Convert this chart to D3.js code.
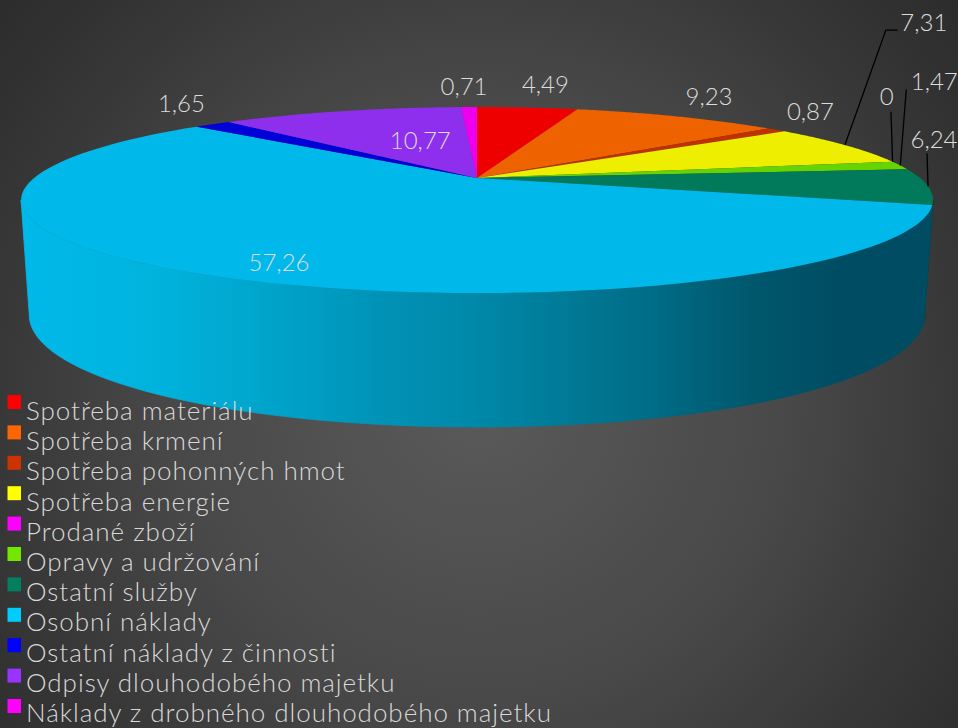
<!DOCTYPE html>
<html><head><meta charset="utf-8">
<script src="https://cdn.jsdelivr.net/npm/d3@7/dist/d3.min.js"></script>
<style>html,body{margin:0;padding:0;background:#333;overflow:hidden}svg{display:block}
text{font-family:Lato,"Open Sans",sans-serif;font-weight:300}</style></head>
<body><svg id="c" width="958" height="728"></svg>
<script>
const categories=["Spotřeba materiálu","Spotřeba krmení","Spotřeba pohonných hmot","Spotřeba energie","Prodané zboží","Opravy a udržování","Ostatní služby","Osobní náklady","Ostatní náklady z činnosti","Odpisy dlouhodobého majetku","Náklady z drobného dlouhodobého majetku"];
const values=[4.49,9.23,0.87,7.31,0,1.47,6.24,57.26,1.65,10.77,0.71];
const valueLabels=["4,49","9,23","0,87","7,31","0","1,47","6,24","57,26","1,65","10,77","0,71"];
const legendColors=["#ff0000","#ff6600","#cc3300","#ffff00","#ff00ff","#72e800","#008060","#00ccff","#0000ff","#9933ff","#ff00ff"];
const topColors=["#ee0000","#ee6200","#c03000","#eeee00","#ee00ee","#66d400","#007a5a","#00b9ea","#0000d8","#8e2fee","#ee00ee"];

// layout
const W=958,H=728,cx=477,cy=178,rxBase=443,ryBase=87.8,k=0.2366;
const depth0=109,depth1=25,bottomScale=0.982;
const project=(a,r=1)=>{const u=r*Math.sin(a),v=-r*Math.cos(a),s=1/(1-k*v);
  return [cx+rxBase*u*s,cy+ryBase*v*s];};
const projectBottom=a=>{const [x,y]=project(a),v=-Math.cos(a);
  return [cx+(x-cx)*bottomScale,y+depth0+depth1*v];};
const labelOffsets=[[18,-23],[32,-20],[34,-18],[79,-123],[-6,-65],[34,-84],[6,-47],[78,-12],[-31,-21],[79,29],[-5,-21]];
const leaders={3:[[41,-115],[53,-115]],4:[[-1.6,-50]],5:[[6,-76]],6:[[-1,-33]]};

const svg=d3.select("#c"),defs=svg.append("defs");
const bg=defs.append("radialGradient").attr("id","bg").attr("gradientUnits","userSpaceOnUse")
 .attr("cx",479).attr("cy",400).attr("r",624);
[[0,"#5a5a5a"],[0.5,"#484848"],[0.8,"#363636"],[1,"#2c2c2c"]].forEach(([o,c])=>bg.append("stop").attr("offset",o).attr("stop-color",c));
svg.append("rect").attr("width",W).attr("height",H).attr("fill","url(#bg)");

const wg=defs.append("linearGradient").attr("id","wall").attr("gradientUnits","userSpaceOnUse")
 .attr("x1",21).attr("x2",933).attr("y1",0).attr("y2",0);
[[0,"#00b9ea"],[0.15,"#00b3dc"],[0.3,"#00a0c6"],[0.4,"#0092b6"],[0.5,"#0088a8"],[0.68,"#006e88"],[0.81,"#00566b"],[0.91,"#004c62"],[1,"#004c62"]]
 .forEach(([o,c])=>wg.append("stop").attr("offset",o).attr("stop-color",c));

const arcs=d3.pie().value(d=>d).sort(null)(values);
const line=d3.line();
const tr=(a,b,n=90)=>d3.range(n+1).map(i=>a+(b-a)*i/n);

// side walls (only the visible front part)
const wallStart=Math.acos(-k),wallEnd=2*Math.PI-wallStart;
const wallFill=i=>i===7?"url(#wall)":d3.color(topColors[i]).darker(1.6).formatHex();
arcs.forEach((d,i)=>{
  const a=Math.max(d.startAngle,wallStart),b=Math.min(d.endAngle,wallEnd);
  if(b<=a)return;
  const t=tr(a,b);
  svg.append("path").attr("fill",wallFill(i)).attr("stroke",wallFill(i)).attr("stroke-width",0.8)
   .attr("d",line(t.map(x=>project(x)).concat(t.slice().reverse().map(projectBottom)))+"Z");
});
// top slices
arcs.forEach((d,i)=>{
  if(d.endAngle<=d.startAngle)return;
  svg.append("path").attr("fill",topColors[i])
   .attr("d",line([[cx,cy]].concat(tr(d.startAngle,d.endAngle).map(x=>project(x))))+"Z");
});
// leader lines
arcs.forEach((d,i)=>{
  if(!leaders[i])return;
  const p=project((d.startAngle+d.endAngle)/2);
  svg.append("path").attr("fill","none").attr("stroke","#000").attr("stroke-width",1.3)
   .attr("d",line([p].concat(leaders[i].map(o=>[p[0]+o[0],p[1]+o[1]]))));
});
// value labels
arcs.forEach((d,i)=>{
  const p=project((d.startAngle+d.endAngle)/2),o=labelOffsets[i];
  svg.append("text").attr("x",p[0]+o[0]).attr("y",p[1]+o[1]+8.5).attr("text-anchor","middle")
   .attr("font-size",24).attr("fill","#dcdcdc").text(valueLabels[i]);
});
// legend
const ly=d3.scalePoint().domain(d3.range(categories.length)).range([395,699]);
const lt=d3.scalePoint().domain(d3.range(categories.length)).range([420,722]);
categories.forEach((c,i)=>{
  svg.append("rect").attr("x",7.5).attr("y",ly(i)).attr("width",13.5).attr("height",14).attr("fill",legendColors[i]);
  svg.append("text").attr("x",26).attr("y",lt(i)).attr("font-size",26).attr("letter-spacing",0.95).attr("fill","#d8d8d8").text(c);
});
</script></body></html>
